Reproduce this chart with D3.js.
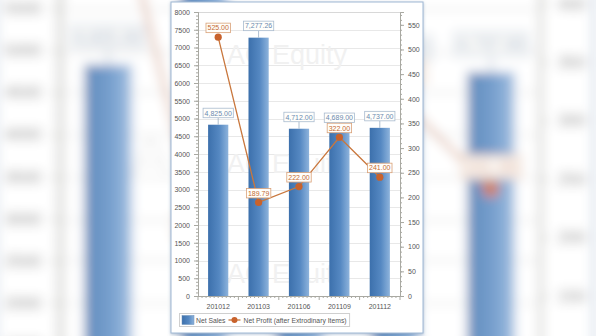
<!DOCTYPE html>
<html>
<head>
<meta charset="utf-8">
<script src="https://cdn.jsdelivr.net/npm/d3@7"></script>
<style>
  html, body { margin: 0; padding: 0; background: #fff; }
  svg { display: block; font-family: "Liberation Sans", Arial, sans-serif; }
</style>
</head>
<body>
<div id="chart"></div>
<script>
const periods = ['201012', '201103', '201106', '201109', '201112'];
const netSales = [4825.00, 7277.26, 4712.00, 4689.00, 4737.00];
const netProfit = [525.00, 189.79, 222.00, 322.00, 241.00];
const leftTicks = d3.range(0, 8001, 500);
const rightTicks = d3.range(0, 551, 50);
const seriesNames = ['Net Sales', 'Net Profit (after Extrodinary Items)'];
const watermark = 'AC Equity';

const W = 596, H = 336;
const svg = d3.select('#chart').append('svg').attr('width', W).attr('height', H);
const defs = svg.append('defs');

const grad = defs.append('linearGradient').attr('id', 'barGrad')
  .attr('x1', 0).attr('x2', 1).attr('y1', 0).attr('y2', 0);
grad.append('stop').attr('offset', '0%').attr('stop-color', '#3c70ac');
grad.append('stop').attr('offset', '55%').attr('stop-color', '#5588c2');
grad.append('stop').attr('offset', '100%').attr('stop-color', '#8db3dc');

defs.append('filter').attr('id', 'blur').attr('x', -0.2).attr('y', -0.2).attr('width', 1.4).attr('height', 1.4)
  .append('feGaussianBlur').attr('stdDeviation', 2.2);
defs.append('filter').attr('id', 'shadow')
  .append('feDropShadow').attr('dx', 0).attr('dy', 1).attr('stdDeviation', 1.5)
  .attr('flood-color', '#6a8cb0').attr('flood-opacity', 0.5);

const chart = svg.append('g').attr('id', 'panel');

// panel
chart.append('rect').attr('x', 171).attr('y', 2).attr('width', 252).attr('height', 331)
  .attr('fill', '#fff').attr('stroke', '#9fb8d4').attr('stroke-width', 1)
  .attr('filter', 'url(#shadow)');

const x = d3.scaleBand().domain(periods).range([198, 400]).paddingInner(0.5).paddingOuter(0.25);
const yL = d3.scaleLinear().domain([0, 8000]).range([296, 12]);
const yR = d3.scaleLinear().domain([0, 576]).range([296, 12]);

// grid
chart.append('g').selectAll('line').data(leftTicks.slice(1)).join('line')
  .attr('x1', 198).attr('x2', 400)
  .attr('y1', d => Math.round(yL(d)) + 0.5).attr('y2', d => Math.round(yL(d)) + 0.5)
  .attr('stroke', '#e8e8e8');
chart.append('line').attr('x1', 198).attr('x2', 400).attr('y1', 12.5).attr('y2', 12.5).attr('stroke', '#d8d8d8');

// watermark
chart.append('g').selectAll('text').data([64, 173, 283]).join('text')
  .attr('x', 227).attr('y', d => d)
  .attr('font-size', 27).attr('fill', '#f1f1f1').text(watermark);

// bars
chart.append('g').selectAll('rect').data(netSales).join('rect')
  .attr('x', (d, i) => x(periods[i]))
  .attr('width', x.bandwidth())
  .attr('y', d => yL(d))
  .attr('height', d => yL(0) - yL(d))
  .attr('fill', 'url(#barGrad)');

// axes
const axisColor = '#a9a9a2';
const tickFont = g => g.selectAll('text').attr('fill', '#555').attr('font-size', 7)
  .attr('font-family', '"Liberation Sans", Arial, sans-serif');

const gl = chart.append('g').attr('transform', 'translate(198,0)')
  .call(d3.axisLeft(yL).tickValues(d3.range(0, 8001, 100)).tickSize(2).tickFormat(''));
const gl2 = chart.append('g').attr('transform', 'translate(198,0)')
  .call(d3.axisLeft(yL).tickValues(leftTicks).tickSize(4).tickPadding(4).tickFormat(d3.format('d')));
const gr = chart.append('g').attr('transform', 'translate(400,0)')
  .call(d3.axisRight(yR).tickValues(d3.range(0, 576, 10)).tickSize(2).tickFormat(''));
const gr2 = chart.append('g').attr('transform', 'translate(400,0)')
  .call(d3.axisRight(yR).tickValues(rightTicks).tickSize(4).tickPadding(4).tickFormat(d3.format('d')));
[gl, gl2, gr, gr2].forEach(g => {
  g.select('.domain').attr('stroke', axisColor);
  g.selectAll('.tick line').attr('stroke', axisColor);
  tickFont(g);
});

const gb = chart.append('g').attr('transform', 'translate(0,296)')
  .call(d3.axisBottom(x).tickSize(0).tickPadding(8));
gb.select('.domain').attr('stroke', axisColor);
tickFont(gb);
chart.append('g').selectAll('line').data(d3.range(0, 51)).join('line')
  .attr('x1', i => 198 + i * 202 / 50).attr('x2', i => 198 + i * 202 / 50)
  .attr('y1', 296).attr('y2', i => i % 10 === 0 ? 300 : 298)
  .attr('stroke', axisColor);

// line series
const cx = (d, i) => x(periods[i]) + x.bandwidth() / 2;
chart.append('path').datum(netProfit)
  .attr('fill', 'none').attr('stroke', '#c9773d').attr('stroke-width', 1.3)
  .attr('d', d3.line().x(cx).y(d => yR(d)));
chart.append('g').selectAll('circle').data(netProfit).join('circle')
  .attr('cx', cx).attr('cy', d => yR(d)).attr('r', 3.6)
  .attr('fill', '#c8622c');

// data labels
const fmt = d3.format(',.2f');
function label(g, xc, yBottom, txt, stroke, color) {
  const t = g.append('text').attr('x', xc).attr('y', yBottom - 2.2)
    .attr('text-anchor', 'middle').attr('font-size', 7).attr('fill', color).text(txt);
  const w = t.node().getComputedTextLength() + 3;
  g.insert('rect', 'text').attr('x', xc - w / 2).attr('y', yBottom - 9.5)
    .attr('width', w).attr('height', 9.5)
    .attr('fill', '#fffefb').attr('stroke', stroke).attr('stroke-width', 0.8);
}
netSales.forEach((d, i) => {
  const g = chart.append('g');
  const xc = cx(d, i), top = yL(d);
  g.append('line').attr('x1', xc).attr('x2', xc).attr('y1', top - 7).attr('y2', top)
    .attr('stroke', '#9aaec4').attr('stroke-width', 0.8);
  label(g, xc, top - 7, fmt(d), '#a9bbcf', '#6a8ab0');
});
netProfit.forEach((d, i) => {
  label(chart.append('g'), cx(d, i), yR(d) - 4.5, fmt(d), '#d9a178', '#c46a30');
});

// legend
const lg = chart.append('g');
const box = lg.append('rect').attr('x', 179.5).attr('y', 313.5).attr('height', 13)
  .attr('fill', '#fff').attr('stroke', '#cfcfcf');
lg.append('rect').attr('x', 182).attr('y', 315.5).attr('width', 12).attr('height', 9)
  .attr('fill', 'url(#barGrad)').attr('stroke', '#6b8fb8').attr('stroke-width', 0.5);
const t1 = lg.append('text').attr('x', 196).attr('y', 322.6).attr('font-size', 6.8)
  .attr('fill', '#555').text(seriesNames[0]);
const mx = 196 + t1.node().getComputedTextLength() + 3;
lg.append('line').attr('x1', mx).attr('x2', mx + 12).attr('y1', 320).attr('y2', 320)
  .attr('stroke', '#c9773d').attr('stroke-width', 1.3);
lg.append('circle').attr('cx', mx + 6).attr('cy', 320).attr('r', 3).attr('fill', '#c8622c');
const t2 = lg.append('text').attr('x', mx + 15).attr('y', 322.6).attr('font-size', 6.8)
  .attr('fill', '#555').text(seriesNames[1]);
box.attr('width', mx + 15 + t2.node().getComputedTextLength() + 3 - 179.5);

// blurred enlarged copy as backdrop
svg.insert('use', '#panel').attr('href', '#panel')
  .attr('transform', 'translate(-409,-231) scale(2.37)')
  .attr('filter', 'url(#blur)').attr('opacity', 0.8);
</script>
</body>
</html>
